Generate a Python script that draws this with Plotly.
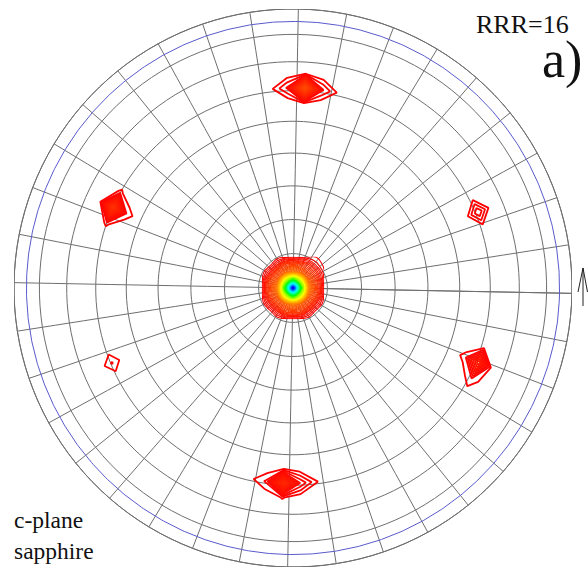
import numpy as np
import plotly.graph_objects as go

# ---------------- stereogram net (equal-area / Schmidt) ----------------
ROT = -1.1                        # sample-frame rotation on the net, degrees
NET_CHI = np.arange(5, 91, 5)     # tilt samples used to draw the net
NET_PHI = np.arange(0, 361, 5)    # azimuth samples used to draw the net
CHI_LIMIT = 85                    # measurement limit circle
STEP = 5                          # scan step in chi and phi, degrees

GRID = "#6f6f6f"
LIMIT = "#5a5acd"

# ---------------- pole data ----------------
# pole centres (phi, chi) and intensity patches on the 5-degree scan grid
# rows: increasing chi, columns: increasing phi
pole_phi = [23.4, 87.7, 157.0, 203.6, 268.2, 339.2]
pole_chi = [61.0, 61.0, 60.0, 59.6, 59.3, 61.0]

pole_ur = [[0, 0, 0],
           [0, 2.0, 0],
           [0, 0, 0]]
pole_top = [[0, 0, 0, 0, 0, 0, 0],
            [0, 0, 0, 0.45, 0, 0, 0],
            [0, 0.3, 1.6, 12.0, 1.6, 0.3, 0],
            [0, 0, 0, 0.3, 0, 0, 0],
            [0, 0, 0, 0, 0, 0, 0]]
pole_ul = [[0, 0, 0, 0, 0],
           [0, 0, 0.85, 0, 0],
           [0, 0.6, 8.0, 0.6, 0],
           [0, 0, 0, 0, 0],
           [0, 0, 0, 0, 0]]
pole_ll = [[0, 0, 0],
           [0, 1.07, 0],
           [0, 0, 0]]
pole_bot = [[0, 0, 0, 0, 0, 0, 0],
            [0, 0, 0, 0, 0, 0, 0],
            [0, 0.3, 1.1, 6.5, 2.0, 0.52, 0],
            [0, 0, 0, 0.55, 0, 0, 0],
            [0, 0, 0, 0, 0, 0, 0]]
pole_lr = [[0, 0, 0, 0, 0],
           [0, 0, 0.75, 0, 0],
           [0, 1.0, 4.5, 0, 0],
           [0, 0, 0, 0, 0],
           [0, 0, 0, 0, 0]]
pole_patches = [pole_ur, pole_top, pole_ul, pole_ll, pole_bot, pole_lr]

# central (0001) reflection on a projected square grid (listed top -> bottom)
center_step = 0.028
center_z = [
    [0, 0, 0, 0.3, 0.5, 0.3, 0.8, 0.9, 0],
    [0, 0.2, 4, 9, 10, 9, 6, 2.5, 0.5],
    [0, 4, 10, 15, 20, 15, 10, 6, 1.2],
    [0.3, 9, 15, 42, 58, 42, 15, 9, 1.5],
    [0.5, 10, 20, 58, 100, 58, 20, 10, 0.5],
    [0.3, 9, 15, 42, 58, 42, 15, 9, 0.3],
    [0, 4, 10, 15, 20, 15, 10, 4, 0],
    [0, 0.2, 4, 9, 10, 9, 4, 0.2, 0],
    [0, 0, 0, 0.3, 0.5, 0.3, 0, 0, 0],
][::-1]

POLE_LEVELS = dict(start=0.5, end=99, size=0.5, coloring="lines")
CENTER_LEVELS = dict(start=1, end=99, size=1, coloring="lines")
ZMAX = 100
CSCALE = [[0.0, "rgb(255,0,0)"], [0.2, "rgb(255,128,0)"], [0.4, "rgb(255,255,0)"],
          [0.6, "rgb(0,255,0)"], [0.8, "rgb(0,255,255)"], [1.0, "rgb(0,0,255)"]]


def eq_area(chi):
    """Equal-area radius, normalised so that chi = 90 deg maps to 1."""
    return np.sqrt(2.0) * np.sin(np.radians(chi) / 2.0)


def project(phi, chi):
    r = eq_area(chi)
    ang = np.radians(phi + ROT)
    return r * np.cos(ang), r * np.sin(ang)


fig = go.Figure()

# ---- net drawn as a carpet on the base axes ----
A, B = np.meshgrid(NET_PHI, NET_CHI)
NX, NY = project(A, B)
fig.add_trace(go.Carpet(
    a=NET_PHI, b=NET_CHI, x=NX, y=NY, carpet="net", xaxis="x", yaxis="y",
    aaxis=dict(tickmode="linear", tick0=0, dtick=10, showgrid=True,
               gridcolor=GRID, gridwidth=1, showticklabels="none",
               showline=False, startline=False, endline=False,
               minorgridcount=0, smoothing=1),
    baxis=dict(tickmode="linear", tick0=10, dtick=10, showgrid=True,
               gridcolor=GRID, gridwidth=1, showticklabels="none",
               showline=False, startline=False, endline=True,
               endlinecolor=GRID, endlinewidth=1,
               minorgridcount=0, smoothing=1),
))

# measurement-limit circle
t = np.linspace(0, 360, 721)
lx, ly = project(t, np.full_like(t, CHI_LIMIT))
fig.add_trace(go.Scatter(x=lx, y=ly, mode="lines", xaxis="x", yaxis="y",
                         line=dict(color=LIMIT, width=1), hoverinfo="skip"))

# ---- pole figures on overlaid axes (above the net) ----
hidden_axis = dict(showgrid=False, showline=False, startline=False,
                   endline=False, showticklabels="none", minorgridcount=0,
                   smoothing=0)
for i, (phi0, chi0, patch) in enumerate(zip(pole_phi, pole_chi, pole_patches)):
    Z = np.array(patch, dtype=float)
    nb, na = Z.shape
    a = phi0 + STEP * (np.arange(na) - (na - 1) / 2)
    b = chi0 + STEP * (np.arange(nb) - (nb - 1) / 2)
    PA, PB = np.meshgrid(a, b)
    PX, PY = project(PA, PB)
    cid = f"pole{i}"
    fig.add_trace(go.Carpet(a=a, b=b, x=PX, y=PY, carpet=cid,
                            xaxis="x2", yaxis="y2",
                            aaxis=hidden_axis, baxis=hidden_axis))
    fig.add_trace(go.Contourcarpet(
        a=a, b=b, z=Z, carpet=cid, xaxis="x2", yaxis="y2",
        autocontour=False, contours=POLE_LEVELS,
        line=dict(width=1.8, smoothing=0),
        colorscale=CSCALE, zmin=0, zmax=ZMAX, showscale=False))

# central reflection
n = len(center_z)
cgrid = center_step * (np.arange(n) - (n - 1) / 2)
fig.add_trace(go.Contour(
    x=cgrid, y=cgrid, z=center_z, xaxis="x2", yaxis="y2",
    autocontour=False, contours=CENTER_LEVELS,
    line=dict(width=1.1, smoothing=1.3),
    colorscale=CSCALE, zmin=0, zmax=ZMAX, showscale=False, hoverinfo="skip"))

W, H = 588, 567
XDOM = [14 / W, 572 / W]
YDOM = [0, 558 / H]
ax = dict(range=[-1, 1], visible=False, fixedrange=True)

fig.update_layout(
    width=W, height=H, margin=dict(l=0, r=0, t=0, b=0),
    paper_bgcolor="white", plot_bgcolor="rgba(0,0,0,0)", showlegend=False,
    xaxis=dict(domain=XDOM, **ax), yaxis=dict(domain=YDOM, **ax),
    xaxis2=dict(overlaying="x", anchor="y2", **ax),
    yaxis2=dict(overlaying="y", anchor="x2", **ax),
    font=dict(family="Liberation Serif", color="#111"),
)

def px(x):
    return x / W

def py(y):
    return 1 - y / H

fig.add_annotation(text="RRR=16", x=px(571), y=py(24), xref="paper", yref="paper",
                   xanchor="right", yanchor="middle", showarrow=False,
                   font=dict(size=26))
fig.add_annotation(text="a)", x=px(584), y=py(60), xref="paper", yref="paper",
                   xanchor="right", yanchor="middle", showarrow=False,
                   font=dict(size=52))
fig.add_annotation(text="c-plane<br>sapphire", x=px(12), y=py(535),
                   xref="paper", yref="paper", align="left",
                   xanchor="left", yanchor="middle", showarrow=False,
                   font=dict(size=23.5))

# direction arrow at the right edge
arrow = dict(color="#222", width=1)
fig.add_shape(type="line", xref="paper", yref="paper",
              x0=px(583), y0=py(268), x1=px(583), y1=py(306), line=arrow)
fig.add_shape(type="path", xref="paper", yref="paper",
              path=f"M {px(578)} {py(292)} L {px(583)} {py(268)} L {px(587.5)} {py(292)}",
              line=arrow)

fig.write_html("out.html")
